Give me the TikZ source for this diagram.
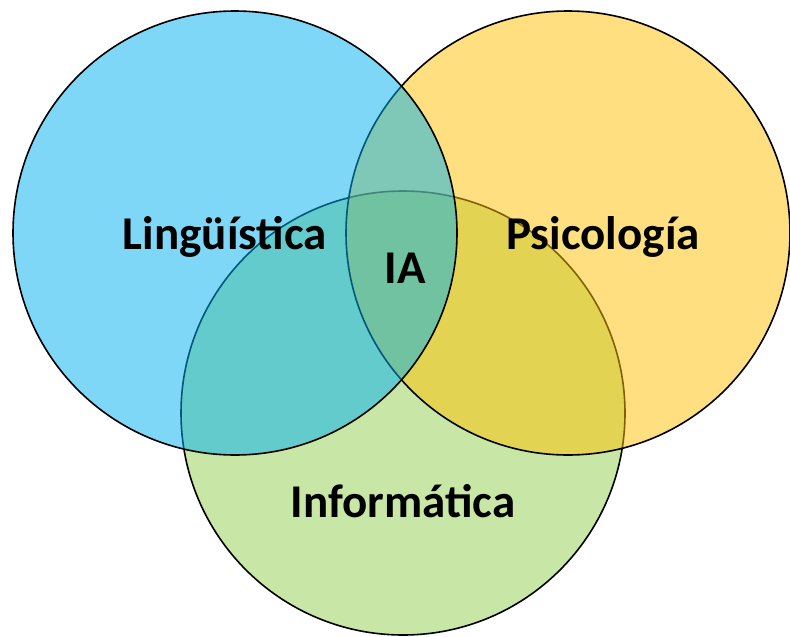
\documentclass[tikz,border=0pt]{standalone}
\usepackage{fontspec}
\setmainfont{Carlito}
\definecolor{lingblue}{HTML}{00B0F0}
\definecolor{psicogold}{HTML}{FFC000}
\definecolor{infogreen}{HTML}{92D050}
\tikzset{
  setcircle/.style={circle, draw=black, line width=1.6pt, fill=#1,
    fill opacity=0.5, draw opacity=1, minimum size=444pt, inner sep=0pt},
  setlabel/.style={text=black, font=\fontsize{47}{50}\selectfont\bfseries,
    inner sep=0pt, anchor=base}
}
\begin{document}
\begin{tikzpicture}[x=1pt, y=-1pt]
  \useasboundingbox (0,0) rectangle (790,637);
  % the three sets, bottom to top
  \node[setcircle=infogreen] (info) at (403,413) {};
  \node[setcircle=psicogold] (psico) at (568,233) {};
  \node[setcircle=lingblue] (ling) at (235,233) {};
  % labels
  \node[setlabel] (lingtext) at (225,249) {Lingüística};
  \node[setlabel] (psicotext) at (603,249) {Psicología};
  \node[setlabel] (iatext) at (405,283) {IA};
  \node[setlabel] (infotext) at (403,517) {Informática};
\end{tikzpicture}
\end{document}
